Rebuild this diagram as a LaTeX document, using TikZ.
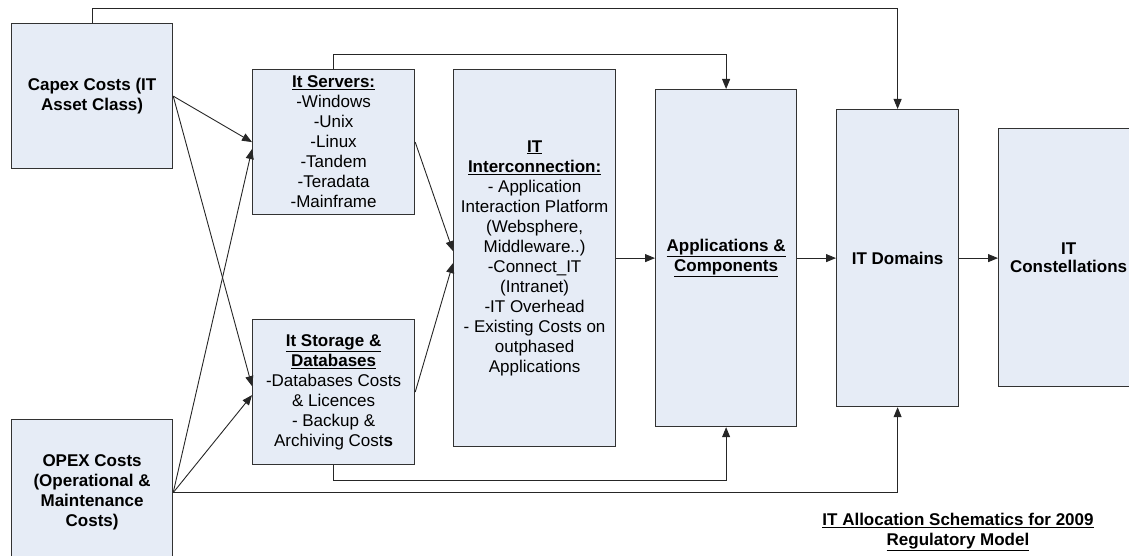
\documentclass[tikz,border=0pt]{standalone}
\usepackage{fontspec}
\setmainfont{Liberation Sans}
\usetikzlibrary{arrows.meta}
\definecolor{boxfill}{RGB}{230,236,246}
\definecolor{boxline}{RGB}{50,50,50}
\tikzset{
  box/.style={draw=boxline, line width=1.2pt, fill=boxfill, inner sep=0pt, anchor=north west, align=center,
    font=\fontsize{17}{20}\selectfont},
  conn/.style={draw=black!85, line width=0.9pt},
  arr/.style={conn, -{Triangle[length=10pt,width=8pt]}}
}
\begin{document}
\begin{tikzpicture}[x=1pt,y=1pt]
\useasboundingbox (0,0) rectangle (1129,-556);
\clip (0,0) rectangle (1129,-556);
\node[box, minimum width=161pt, minimum height=145pt] (capex) at (11,-23) {\textbf{Capex Costs (IT}\\\textbf{Asset Class)}};
\node[box, minimum width=161pt, minimum height=146pt] (opex) at (11,-419) {\textbf{OPEX Costs}\\\textbf{(Operational \&}\\\textbf{Maintenance}\\\textbf{Costs)}};
\node[box, minimum width=162pt, minimum height=145pt] (servers) at (252,-69) {\underline{\textbf{It Servers:}}\\-Windows\\-Unix\\-Linux\\-Tandem\\-Teradata\\-Mainframe};
\node[box, minimum width=162pt, minimum height=145pt] (storage) at (252,-319) {\underline{\textbf{It Storage \&}}\\\underline{\textbf{Databases}}\\-Databases Costs\\\& Licences\\- Backup \&\\Archiving Cost\textbf{s}};
\node[box, minimum width=162pt, minimum height=377pt] (inter) at (453,-69) {\underline{\textbf{IT}}\\\underline{\textbf{Interconnection:}}\\- Application\\Interaction Platform\\(Websphere,\\Middleware..)\\-Connect\_IT\\(Intranet)\\-IT Overhead\\- Existing Costs on\\outphased\\Applications};
\node[box, minimum width=141pt, minimum height=337pt] (apps) at (655,-89) {\underline{\textbf{Applications \&}}\\\underline{\textbf{Components}}};
\node[box, minimum width=122pt, minimum height=297pt] (domains) at (836,-109) {\textbf{IT Domains}};
\node[box, minimum width=140pt, minimum height=258pt] (const) at (998,-128) {\textbf{IT}\\[-2pt]\textbf{Constellations}};
\node[align=center, inner sep=0pt, font=\fontsize{17}{20}\selectfont] (title) at (958,-532) {\underline{\textbf{IT Allocation Schematics for 2009}}\\\underline{\textbf{Regulatory Model}}};
% diagonal feeders
\draw[arr] (capex.east) -- (servers.west);
\draw[arr] (capex.east) -- ([yshift=6pt]storage.west);
\draw[arr] (opex.east) -- ([yshift=-7pt]servers.west);
\draw[arr] (opex.east) -- ([yshift=-3pt]storage.west);
\draw[arr] (servers.east) -- ([yshift=7pt]inter.west);
\draw[arr] (storage.east) -- ([yshift=-5pt]inter.west);
% main flow
\draw[arr] (inter.east) -- (apps.west);
\draw[arr] (apps.east) -- (apps.east -| domains.west);
\draw[arr] (domains.east) -- (domains.east -| const.west);
% bypass loops
\draw[arr] (capex.north) -- ++(0,15) -| (domains.north);
\draw[arr] (servers.north) -- ++(0,15) -| (apps.north);
\draw[arr] (storage.south) -- ++(0,-15) -| (apps.south);
\draw[arr] (opex.east) -| (domains.south);
\end{tikzpicture}
\end{document}
